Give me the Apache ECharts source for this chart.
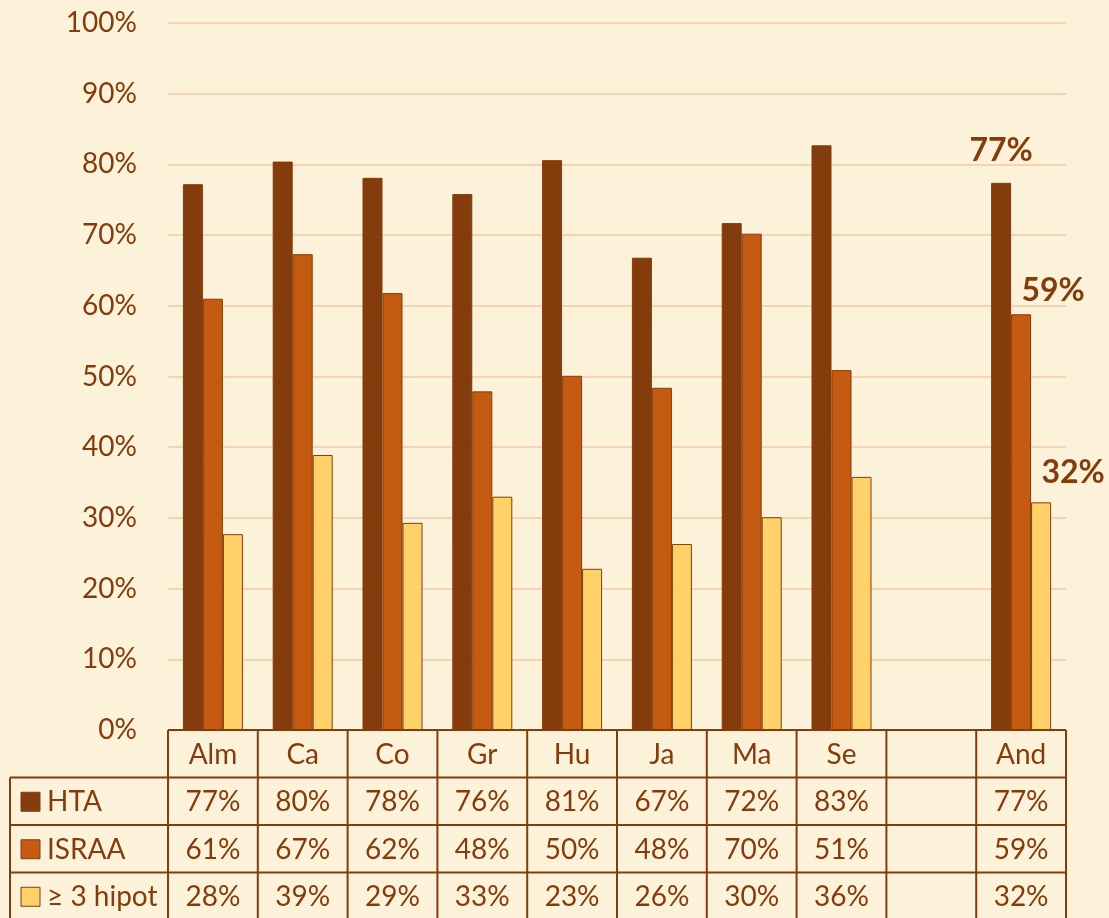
<!DOCTYPE html>
<html>
<head>
<meta charset="utf-8">
<script src="https://cdn.jsdelivr.net/npm/echarts@6/dist/echarts.min.js"></script>
<style>
  html, body { margin: 0; padding: 0; background: #fcf2da; }
  #chart { width: 1109px; height: 918px; }
</style>
</head>
<body>
<div id="chart"></div>
<script>
// categorias (la 9a es un hueco vacio)
var categories = ['Alm', 'Ca', 'Co', 'Gr', 'Hu', 'Ja', 'Ma', 'Se', '', 'And'];
var seriesNames = ['HTA', 'ISRAA', '\u2265 3 hipot'];
var hta   = [77.2, 80.4, 78.1, 75.8, 80.6, 66.8, 71.7, 82.7, null, 77.4];
var israa = [61.0, 67.3, 61.8, 47.9, 50.1, 48.4, 70.2, 50.9, null, 58.8];
var hipot = [27.7, 38.9, 29.3, 33.0, 22.8, 26.3, 30.1, 35.8, null, 32.2];
var yTicks = [0, 10, 20, 30, 40, 50, 60, 70, 80, 90, 100];

var colors = ['#843c0c', '#c55a11', '#ffd168'];
var brown = '#843c0c';
var font = 'Lato, "Open Sans", sans-serif';

var chart = echarts.init(document.getElementById('chart'));

// etiqueta solo en la ultima categoria (And)
function withLabel(values, dist, offX) {
    return values.map(function (v, i) {
        if (i !== values.length - 1 || v == null) return v;
        return {
            value: v,
            label: {
                show: true,
                position: 'top',
                distance: dist,
                offset: [offX, 0],
                color: brown,
                fontFamily: font,
                fontWeight: 'bold',
                fontSize: 32,
                formatter: function (p) { return Math.round(p.value) + '%'; }
            }
        };
    });
}

var gridLeft = 168, gridRight = 43, gridTop = 23, gridBottom = 188;

chart.setOption({
    backgroundColor: '#fcf2da',
    animation: false,
    grid: { left: gridLeft, right: gridRight, top: gridTop, bottom: gridBottom },
    xAxis: {
        type: 'category',
        data: categories,
        axisLine: { show: false },
        axisTick: { show: false },
        axisLabel: { show: false }
    },
    yAxis: {
        type: 'value',
        min: yTicks[0],
        max: yTicks[yTicks.length - 1],
        interval: 10,
        axisLine: { show: false },
        axisTick: { show: false },
        axisLabel: {
            formatter: '{value}%',
            color: brown,
            fontFamily: font,
            fontSize: 28,
            margin: 31
        },
        splitLine: { lineStyle: { color: '#f6c8a8', width: 1.5 } }
    },
    series: [
        { name: seriesNames[0], type: 'bar', data: withLabel(hta, 16, 0), barWidth: 20, barGap: '0%',
          itemStyle: { color: colors[0], borderColor: brown, borderWidth: 1 } },
        { name: seriesNames[1], type: 'bar', data: withLabel(israa, 8, 32), barWidth: 20, barGap: '0%',
          itemStyle: { color: colors[1], borderColor: brown, borderWidth: 1 } },
        { name: seriesNames[2], type: 'bar', data: withLabel(hipot, 14, 32), barWidth: 20, barGap: '0%',
          itemStyle: { color: colors[2], borderColor: brown, borderWidth: 1 } }
    ]
});

// tabla de datos debajo del grafico
function buildTable() {
    var W = chart.getWidth();
    var x0 = gridLeft, x1 = W - gridRight;
    var yAxis0 = chart.convertToPixel({ yAxisIndex: 0 }, 0);
    var rowH = 47.5;
    var legendLeft = 10;
    var n = categories.length;
    var cw = (x1 - x0) / n;
    var rows = [hta, israa, hipot];
    var els = [];
    var line = function (xa, ya, xb, yb) {
        els.push({ type: 'line', shape: { x1: xa, y1: ya, x2: xb, y2: yb },
                   style: { stroke: brown, lineWidth: 2 }, z: 10 });
    };
    var txt = function (x, y, s, align) {
        els.push({ type: 'text', x: x, y: y, z: 11,
                   style: { text: s, fill: brown, font: '28px ' + font,
                            align: align || 'center', verticalAlign: 'middle' } });
    };
    var yBottom = yAxis0 + rowH * 4;
    // lineas horizontales
    line(x0, yAxis0, x1, yAxis0);
    for (var r = 1; r <= 4; r++) {
        line(legendLeft, yAxis0 + rowH * r, x1, yAxis0 + rowH * r);
    }
    // lineas verticales
    for (var c = 0; c <= n; c++) {
        line(x0 + cw * c, yAxis0, x0 + cw * c, yBottom);
    }
    line(legendLeft, yAxis0 + rowH, legendLeft, yBottom);
    // cabecera
    categories.forEach(function (cat, i) {
        var cx = chart.convertToPixel({ xAxisIndex: 0 }, i);
        txt(cx, yAxis0 + rowH / 2 + 1, cat);
    });
    // filas
    rows.forEach(function (vals, r) {
        var cy = yAxis0 + rowH * (r + 1) + rowH / 2 + 1;
        els.push({ type: 'rect', shape: { x: 21, y: cy - 10, width: 19, height: 19 },
                   style: { fill: colors[r], stroke: brown, lineWidth: 1 }, z: 11 });
        txt(47, cy, seriesNames[r], 'left');
        vals.forEach(function (v, i) {
            if (v == null) return;
            var cx = chart.convertToPixel({ xAxisIndex: 0 }, i);
            txt(cx, cy, Math.round(v) + '%');
        });
    });
    chart.setOption({ graphic: els });
}
buildTable();
</script>
</body>
</html>
